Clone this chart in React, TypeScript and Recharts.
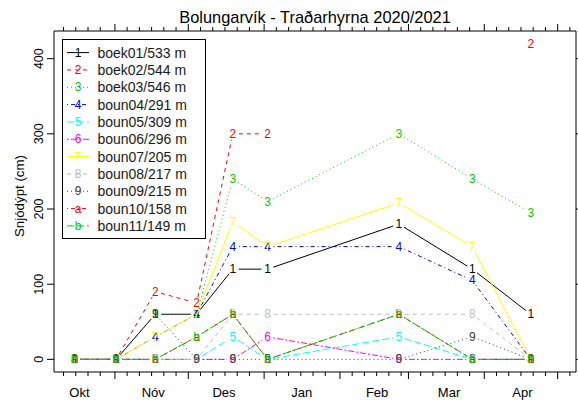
import React from 'react';
import { LineChart, Line, XAxis, YAxis, Legend, Customized } from 'recharts';

// days counted from 1 Oct 2020
const DAYS = [14.5, 31.5, 47.5, 64.4, 79.2, 93.4, 147.1, 177.1, 201];

const S1 = [0, 0, 60, 60, 120, 120, 180, 120, 60];
const S2 = [0, 0, 90, 75, 300, 300, null, null, 420];
const S3 = [0, 0, 60, 60, 240, 210, 300, 240, 195];
const S4 = [0, 0, 30, 60, 150, 150, 150, 105, 0];
const S5 = [0, 0, 0, 0, 30, 0, 30, 0, 0];
const S6 = [0, 0, 0, 0, 0, 30, 0, 0, 0];
const S7 = [0, 0, 30, 60, 183, 150, 208, 150, 0];
const S8 = [0, 0, 0, 0, 60, 60, 60, 60, 0];
const S9 = [0, 0, 60, 0, 0, 0, 0, 30, 0];
const S10 = [0, 0, 0, 30, 60, 0, 60, 0, 0];
const S11 = [0, 0, 0, 30, 60, 0, 60, 0, 0];
const SERIES = [S1, S2, S3, S4, S5, S6, S7, S8, S9, S10, S11];

const NAMES = [
  'boek01/533 m', 'boek02/544 m', 'boek03/546 m', 'boun04/291 m', 'boun05/309 m',
  'boun06/296 m', 'boun07/205 m', 'boun08/217 m', 'boun09/215 m', 'boun10/158 m', 'boun11/149 m',
];
const PCH = ['1', '2', '3', '4', '5', '6', '7', '8', '9', 'a', 'b'];
const COLORS = ['#000000', '#FF0000', '#00CD00', '#0000FF', '#00FFFF', '#FF00FF', '#FFFF00', '#BEBEBE', '#404040', '#FF0000', '#00CD00'];
const DASHES = ['', '4 4', '1 3', '1 3 4 3', '7 3', '2 2 6 2', '', '4 4', '1 3', '1 3 4 3', '7 3'];

const MONTH_LABELS = ['Okt', 'Nóv', 'Des', 'Jan', 'Feb', 'Mar', 'Apr'];
const MONTH_LABEL_DAYS = [16.5, 46.7, 75.6, 107.4, 138.2, 167.6, 197.6];
const MONTH_STARTS = [0, 31, 61, 92, 123, 151, 182, 212];
const MINOR_OFFSETS = [5, 10, 15, 20, 25];
const Y_TICKS = [0, 100, 200, 300, 400];

const X_DOMAIN = [6.1, 219.5];
const Y_DOMAIN = [-16.8, 436.8];
const FONT = '"Liberation Sans", Arial, Helvetica, sans-serif';
const GAP = 6;

const ALL_X_TICKS = MONTH_STARTS.flatMap((m) => [m, ...MINOR_OFFSETS.map((o) => m + o)]).filter(
  (d) => d >= X_DOMAIN[0] && d <= X_DOMAIN[1]
);

const rows = DAYS.map((d, i) => {
  const r: any = { day: d };
  SERIES.forEach((s, k) => (r[`s${k}`] = s[i]));
  return r;
});

// type="b" look: digit at each point, segments stop short of the digits
const makeDot = (k: number) => (props: any) => {
  const { cx, cy, index, points, value } = props;
  const key = `dot-${k}-${index}`;
  if (cx == null || cy == null || value == null || !isFinite(cy)) return <g key={key} />;
  const next = points ? points[index + 1] : null;
  let seg = null;
  if (next && next.y != null && next.value != null && isFinite(next.y)) {
    const dx = next.x - cx;
    const dy = next.y - cy;
    const len = Math.hypot(dx, dy);
    if (len > 2 * GAP) {
      const ux = dx / len;
      const uy = dy / len;
      seg = (
        <line
          x1={cx + ux * GAP}
          y1={cy + uy * GAP}
          x2={next.x - ux * GAP}
          y2={next.y - uy * GAP}
          stroke={COLORS[k]}
          strokeWidth={1}
          strokeDasharray={DASHES[k] || undefined}
        />
      );
    }
  }
  return (
    <g key={key}>
      {seg}
      <text x={cx} y={cy} textAnchor="middle" dominantBaseline="central" fontSize={12} fontFamily={FONT} fill={COLORS[k]}>
        {PCH[k]}
      </text>
    </g>
  );
};

const XTick = (props: any) => {
  const { x, y, payload, dir } = props;
  const major = MONTH_STARTS.includes(payload.value);
  const len = major ? 7 : 4;
  return <line x1={x} x2={x} y1={y} y2={y + dir * len} stroke="#000" strokeWidth={1} />;
};

const MonthLabel = (props: any) => {
  const { x, y, index } = props;
  return (
    <text x={x} y={y + 23.5} textAnchor="middle" fontSize={13} fontFamily={FONT} fill="#000">
      {MONTH_LABELS[index]}
    </text>
  );
};

const YTickLeft = (props: any) => {
  const { x, y, payload } = props;
  return (
    <g>
      <line x1={x} x2={x - 7} y1={y} y2={y} stroke="#000" strokeWidth={1} />
      <text
        x={x - 15}
        y={y}
        transform={`rotate(-90 ${x - 15} ${y})`}
        textAnchor="middle"
        dominantBaseline="central"
        fontSize={12.5}
        fontFamily={FONT}
        fill="#000"
      >
        {payload.value}
      </text>
    </g>
  );
};

const YTickRight = (props: any) => {
  const { x, y } = props;
  return <line x1={x} x2={x + 7} y1={y} y2={y} stroke="#000" strokeWidth={1} />;
};

const YTitle = () => {
  const tx = 19;
  const ty = 196;
  return (
    <text x={tx} y={ty} transform={`rotate(-90 ${tx} ${ty})`} textAnchor="middle" dominantBaseline="central" fontSize={13.3} fontFamily={FONT} fill="#000">
      Snjódýpt (cm)
    </text>
  );
};

const LegendBox = () => (
  <svg width={146} height={202} style={{ display: 'block' }}>
    <rect x={0.5} y={0.5} width={143} height={199} fill="#fff" stroke="#000" strokeWidth={1} />
    {NAMES.map((name, i) => {
      const cy = 13.6 + i * 17.33;
      return (
        <g key={name}>
          <line x1={5} x2={27} y1={cy} y2={cy} stroke={COLORS[i]} strokeWidth={1} strokeDasharray={DASHES[i] || undefined} />
          <text x={16} y={cy} textAnchor="middle" dominantBaseline="central" fontSize={12} fontFamily={FONT} fill={COLORS[i]}>
            {PCH[i]}
          </text>
          <text x={35.4} y={cy} dominantBaseline="central" fontSize={14} fontFamily={FONT} fill="#1a1a1a">
            {name}
          </text>
        </g>
      );
    })}
  </svg>
);

const Title = () => (
  <g>
    <text x={315} y={22.5} textAnchor="middle" fontSize={16.4} fontFamily={FONT} fill="#000">
      Bolungarvík - Traðarhyrna 2020/2021
    </text>
    <YTitle />
  </g>
);

export default function App() {
  return (
    <div style={{ position: 'absolute', left: 0, top: 0, background: '#fff', fontFamily: FONT }}>
      <LineChart width={578} height={403} data={rows} margin={{ top: 0, right: 0, bottom: 0, left: 0 }}>
        <XAxis
          xAxisId="b"
          dataKey="day"
          type="number"
          domain={X_DOMAIN}
          allowDataOverflow
          ticks={ALL_X_TICKS}
          interval={0}
          height={1}
          tickSize={0}
          tickMargin={0}
          tickLine={false}
          axisLine={{ stroke: '#000' }}
          tick={(p: any) => <XTick {...p} dir={1} />}
        />
        <XAxis
          xAxisId="lab"
          dataKey="day"
          type="number"
          domain={X_DOMAIN}
          allowDataOverflow
          ticks={MONTH_LABEL_DAYS}
          interval={0}
          height={30}
          tickSize={0}
          tickMargin={0}
          tickLine={false}
          axisLine={false}
          tick={MonthLabel}
        />
        <XAxis
          xAxisId="t"
          dataKey="day"
          orientation="top"
          type="number"
          domain={X_DOMAIN}
          allowDataOverflow
          ticks={ALL_X_TICKS}
          interval={0}
          height={31}
          tickSize={0}
          tickMargin={0}
          tickLine={false}
          axisLine={{ stroke: '#000' }}
          tick={(p: any) => <XTick {...p} dir={-1} />}
        />
        <YAxis
          yAxisId="l"
          type="number"
          domain={Y_DOMAIN}
          allowDataOverflow
          ticks={Y_TICKS}
          interval={0}
          width={54}
          tickSize={0}
          tickMargin={0}
          tickLine={false}
          axisLine={{ stroke: '#000' }}
          tick={YTickLeft}
        />
        <YAxis
          yAxisId="r"
          orientation="right"
          type="number"
          domain={Y_DOMAIN}
          allowDataOverflow
          ticks={Y_TICKS}
          interval={0}
          width={2}
          tickSize={0}
          tickMargin={0}
          tickLine={false}
          axisLine={{ stroke: '#000' }}
          tick={YTickRight}
        />
        <Legend
          layout="vertical"
          align="center"
          verticalAlign="middle"
          wrapperStyle={{ left: 62, top: 39, width: 146, height: 202 }}
          content={() => <LegendBox />}
        />
        <Customized component={Title} />
        {SERIES.map((_, k) => (
          <Line
            key={k}
            xAxisId="b"
            yAxisId="l"
            dataKey={`s${k}`}
            name={NAMES[k]}
            type="linear"
            stroke="none"
            dot={makeDot(k)}
            activeDot={false}
            isAnimationActive={false}
          />
        ))}
      </LineChart>
    </div>
  );
}
